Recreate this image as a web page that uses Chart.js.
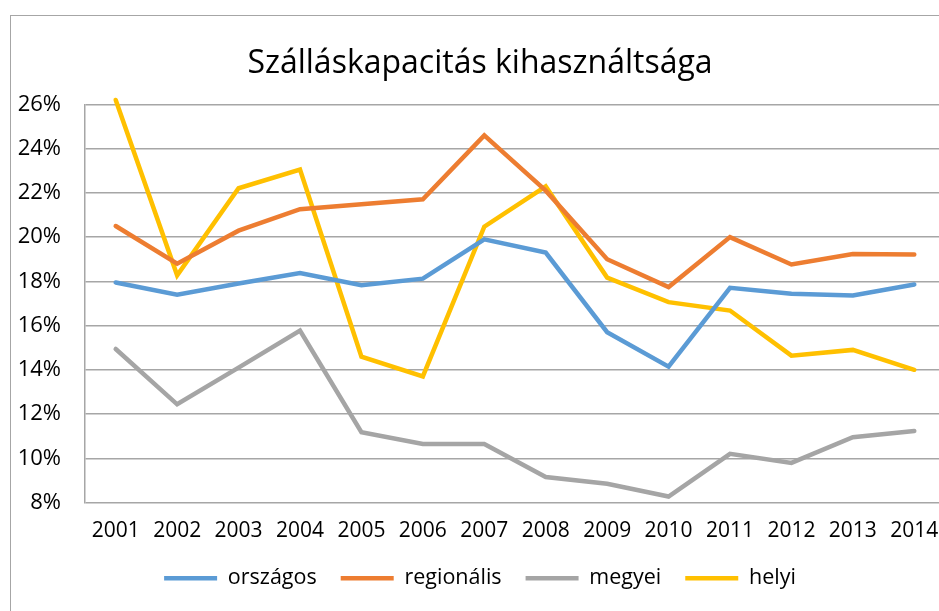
<!DOCTYPE html>
<html>
<head>
<meta charset="utf-8">
<script src="https://cdn.jsdelivr.net/npm/chart.js@4"></script>
<style>
html,body{margin:0;padding:0;background:#fff;overflow:hidden;width:939px;height:611px}
#frm{position:absolute;left:10px;top:15px;width:1000px;height:700px;border-left:1.5px solid #a6a6a6;border-top:1.5px solid #a6a6a6}
#c{position:absolute;left:0;top:0}
</style>
</head>
<body>
<div id="frm"></div>
<canvas id="c" width="960" height="611"></canvas>
<script>
// years + series (share)
const YEARS=["2001","2002","2003","2004","2005","2006","2007","2008","2009","2010","2011","2012","2013","2014"];
const ORSZAGOS=[17.95,17.4,17.9,18.38,17.82,18.12,19.9,19.3,15.7,14.14,17.71,17.44,17.36,17.86];
const REGIONALIS=[20.5,18.8,20.29,21.26,21.49,21.71,24.6,22.1,19.0,17.74,20.0,18.76,19.24,19.21];
const MEGYEI=[14.94,12.44,14.1,15.77,11.18,10.65,10.64,9.15,8.85,8.27,10.2,9.79,10.95,11.23];
const HELYI=[26.2,18.27,22.21,23.05,14.59,13.7,20.47,22.29,18.17,17.06,16.68,14.64,14.9,14.0];
const SERIES=["országos","regionális","megyei","helyi"];
const CLR=["#5b9bd5","#ed7d31","#a5a5a5","#ffc000"];

const FNT="'Open Sans','Noto Sans',sans-serif";
const pct=a=>a.map(v=>v/100);
const ds=(lbl,data,i)=>({label:lbl,data:pct(data),borderColor:CLR[i],backgroundColor:CLR[i],borderWidth:4.5,pointRadius:0,tension:0,clip:false,borderCapStyle:"round",borderJoinStyle:"miter"});

new Chart(document.getElementById("c"),{type:"line",
  data:{labels:YEARS,datasets:[ds(SERIES[0],ORSZAGOS,0),ds(SERIES[1],REGIONALIS,1),ds(SERIES[2],MEGYEI,2),ds(SERIES[3],HELYI,3)]},
  options:{responsive:false,animation:false,
    layout:{padding:{left:15,right:15,top:0,bottom:12}},
    plugins:{
      title:{display:true,text:"Szálláskapacitás kihasználtsága",color:"#000",font:{family:FNT,size:32,weight:"normal"},padding:{top:45,bottom:21}},
      legend:{position:"bottom",labels:{color:"#000",font:{family:FNT,size:21.5},usePointStyle:true,pointStyle:"line",pointStyleWidth:53,boxHeight:22,padding:24}},
      tooltip:{enabled:false}
    },
    scales:{
      x:{offset:true,grid:{display:false,drawTicks:false},border:{display:false},afterFit:s=>{s.height=41},
        ticks:{color:"#000",font:{family:FNT,size:21},padding:16,maxRotation:0,autoSkip:false}},
      y:{min:0.08,max:0.26,afterFit:s=>{s.width=70},
        grid:{color:"#a6a6a6",lineWidth:1.5,drawTicks:false},border:{color:"#a6a6a6",width:1.5},
        ticks:{stepSize:0.02,color:"#000",font:{family:FNT,size:22},padding:24,callback:v=>Math.round(v*100)+"%"}}
    }
  }
});
</script>
</body>
</html>
